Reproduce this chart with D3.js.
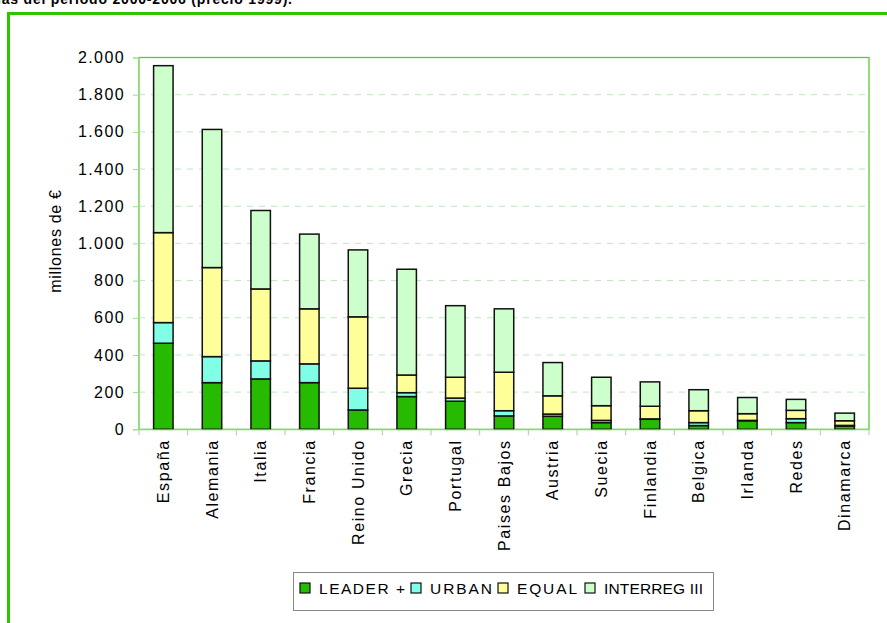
<!DOCTYPE html>
<html><head><meta charset="utf-8">
<script src="https://cdnjs.cloudflare.com/ajax/libs/d3/7.8.5/d3.min.js"></script>
<style>body{margin:0;background:#fff}svg{display:block;font-family:"Liberation Sans",Arial,sans-serif}</style>
</head><body><svg id="c" width="887" height="623"></svg>
<script>
const categories = ["España","Alemania","Italia","Francia","Reino Unido","Grecia","Portugal","Paises Bajos","Austria","Suecia","Finlandia","Belgica","Irlanda","Redes","Dinamarca"];
const seriesNames = ["LEADER +","URBAN","EQUAL","INTERREG III"];
const leader   = [463,251,271,251,104,176,151,72,70,36,54,20,46,36,18];
const urban    = [111,140,97,101,117,21,17,28,12,12,2,16,2,21,3];
const equal    = [484,479,387,296,384,95,112,207,98,79,68,64,36,45,25];
const interreg = [898,743,422,402,360,569,385,341,179,153,131,113,87,59,41];
const yTicks   = [0,200,400,600,800,1000,1200,1400,1600,1800,2000];
const colors   = ["#26bb00","#80ffe6","#ffff99","#ccffcc"];

const svg = d3.select("#c");
const fmt = v => d3.format(",")(v).replace(/,/g,".");
const FF = "Liberation Sans, Arial, sans-serif";

// title (partly cut off at top, as in the source)
svg.append("text").attr("x",-3).attr("y",4).attr("font-size",14).attr("font-weight","bold")
  .attr("letter-spacing",0.8)
  .text("ias del periodo 2000-2006 (precio 1999).");
// outer frame
svg.append("rect").attr("x",8.5).attr("y",13.5).attr("width",900).attr("height",640)
  .attr("fill","none").attr("stroke","#2ec400").attr("stroke-width",3);

const m = {l:139, t:57.5, r:869, b:429.3};
const x = d3.scaleBand().domain(categories).range([m.l,m.r]).paddingInner(0.6).paddingOuter(0.3);
const y = d3.scaleLinear().domain([0,2000]).range([m.b,m.t]);

// gridlines
svg.append("g").selectAll("line").data(yTicks.filter(d=>d>0 && d<2000)).join("line")
  .attr("x1",m.l).attr("x2",m.r).attr("y1",d=>y(d)).attr("y2",d=>y(d))
  .attr("stroke","#bfe6bf").attr("stroke-dasharray","6,6").attr("stroke-width",1);

// plot border
svg.append("rect").attr("x",m.l).attr("y",m.t).attr("width",m.r-m.l).attr("height",m.b-m.t)
  .attr("fill","none").attr("stroke","#55cc33").attr("stroke-width",1.3);

// stacked bars
const table = categories.map((c,i)=>({cat:c, "LEADER +":leader[i], "URBAN":urban[i], "EQUAL":equal[i], "INTERREG III":interreg[i]}));
const stack = d3.stack().keys(seriesNames)(table);
stack.forEach((s,si)=>{
  svg.append("g").selectAll("rect").data(s).join("rect")
    .attr("x",d=>x(d.data.cat)).attr("width",x.bandwidth())
    .attr("y",d=>y(d[1])).attr("height",d=>y(d[0])-y(d[1]))
    .attr("fill",colors[si]).attr("stroke","#111").attr("stroke-width",1.5);
});

// y axis
const ya = svg.append("g").attr("transform",`translate(${m.l},0)`)
  .call(d3.axisLeft(y).tickValues(yTicks).tickFormat(fmt).tickSize(6).tickPadding(8));
ya.select(".domain").attr("stroke","#99dd88");
ya.selectAll(".tick line").attr("stroke","#99dd88");
ya.selectAll("text").attr("font-size",16).attr("fill","#000").attr("font-family",FF)
  .attr("letter-spacing",1.4);

// x axis
const xa = svg.append("g").attr("transform",`translate(0,${m.b})`)
  .call(d3.axisBottom(x).tickSize(0).tickPadding(10));
xa.select(".domain").attr("stroke","#99dd88");
xa.selectAll("text").attr("font-size",16).attr("fill","#000").attr("font-family",FF)
  .attr("letter-spacing",1.6)
  .attr("transform","rotate(-90)").attr("text-anchor","end").attr("dy","0.35em").attr("x",-10).attr("y",0);
// category separator ticks
const step = x.step();
svg.append("g").selectAll("line").data(d3.range(categories.length+1)).join("line")
  .attr("x1",i=>m.l+i*step).attr("x2",i=>m.l+i*step).attr("y1",m.b).attr("y2",m.b+6)
  .attr("stroke","#99dd88");

// y label
svg.append("text").attr("transform","translate(61,241) rotate(-90)").attr("text-anchor","middle")
  .attr("font-size",16).attr("letter-spacing",0.7).text("millones de €");

// legend
const lg = svg.append("g");
lg.append("rect").attr("x",293.5).attr("y",572.5).attr("width",420).attr("height",38)
  .attr("fill","#fff").attr("stroke","#888").attr("stroke-width",1);
const lx = [300,411,498,585];
const lw = [86,62,60,99];
seriesNames.forEach((n,i)=>{
  lg.append("rect").attr("x",lx[i]).attr("y",583).attr("width",10).attr("height",10)
    .attr("fill",colors[i]).attr("stroke","#111").attr("stroke-width",1.2);
  lg.append("text").attr("x",lx[i]+19).attr("y",594).attr("font-size",15.5)
    .attr("textLength",lw[i]).attr("lengthAdjust","spacing").text(n);
});
</script></body></html>
